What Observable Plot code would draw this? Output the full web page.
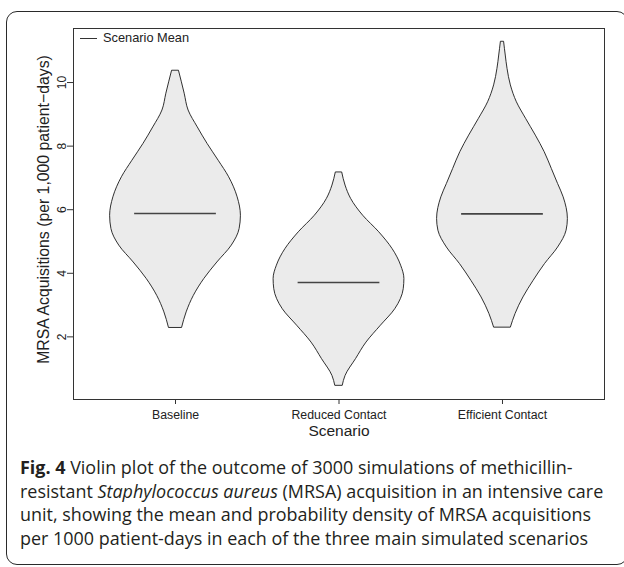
<!DOCTYPE html>
<html>
<head>
<meta charset="utf-8">
<script src="https://cdn.jsdelivr.net/npm/d3@7"></script>
<script src="https://cdn.jsdelivr.net/npm/@observablehq/plot@0.6"></script>
<style>
  html, body { margin: 0; padding: 0; background: #fff; }
  #page { position: relative; width: 624px; height: 567px; overflow: hidden; }
  #box { position: absolute; left: 6px; top: 11px; width: 622px; height: 554px; box-sizing: border-box;
         border: 1.5px solid #2a2a2a; border-radius: 11px; }
  #chart { position: absolute; left: 0; top: 0; }
  #legend { position: absolute; left: 80px; top: 31px; font: 12.8px "Liberation Sans", Arial, sans-serif; color: #222; }
  #legend .ln { position: absolute; left: 0; top: 6.5px; width: 17px; height: 1.5px; background: #333; }
  #legend .tx { position: absolute; left: 23px; top: 0; white-space: nowrap; line-height: 14px; }
  #caption { position: absolute; left: 20px; top: 456px; width: 600px; font-family: "Open Sans", sans-serif;
             font-size: 17.95px; line-height: 23.6px; color: #231f20; white-space: nowrap; }
</style>
</head>
<body>
<div id="page">
  <div id="box"></div>
  <div id="chart"></div>
  <div id="legend"><span class="ln"></span><span class="tx">Scenario Mean</span></div>
  <div id="caption"><b>Fig. 4</b> Violin plot of the outcome of 3000 simulations of methicillin-<br>resistant <i>Staphylococcus aureus</i> (MRSA) acquisition in an intensive care<br>unit, showing the mean and probability density of MRSA acquisitions<br>per 1000 patient-days in each of the three main simulated scenarios</div>
</div>
<script>
const categories = ["Baseline", "Reduced Contact", "Efficient Contact"];
const means = [5.88, 3.71, 5.87];
const yTicks = [2, 4, 6, 8, 10];

// density profiles: value (MRSA acquisitions) and relative half-width (1 = widest)
const baselineY = [10.36, 9.65, 9.12, 8.59, 8.07, 7.54, 7.02, 6.39, 5.81, 5.39, 4.87, 4.34, 3.82, 3.29, 2.77, 2.28];
const baselineW = [0.054, 0.14, 0.20, 0.34, 0.49, 0.66, 0.82, 0.95, 1.00, 0.98, 0.86, 0.64, 0.44, 0.28, 0.17, 0.10];

const reducedY = [7.16, 6.76, 6.34, 5.81, 5.29, 4.76, 4.24, 3.82, 3.50, 2.87, 2.35, 1.82, 1.30, 0.77, 0.46];
const reducedW = [0.05, 0.10, 0.185, 0.37, 0.615, 0.82, 0.95, 1.00, 0.99, 0.86, 0.64, 0.42, 0.26, 0.10, 0.057];

const efficientY = [11.27, 10.85, 10.43, 9.91, 9.38, 8.86, 8.33, 7.81, 7.28, 6.81, 6.39, 5.71, 5.34, 4.81, 4.29, 3.76, 3.24, 2.72, 2.29];
const efficientW = [0.025, 0.05, 0.077, 0.128, 0.22, 0.36, 0.51, 0.645, 0.755, 0.85, 0.935, 1.00, 0.98, 0.85, 0.65, 0.475, 0.32, 0.20, 0.128];

const profiles = [[baselineY, baselineW], [reducedY, reducedW], [efficientY, efficientW]];
const violin = profiles.flatMap(([ys, ws], i) =>
  ys.map((y, j) => ({cat: categories[i], pos: i + 1, y, w: ws[j]})));
const meanRows = means.map((m, i) => ({cat: categories[i], pos: i + 1, mean: m}));

const maxHalf = 0.4, meanHalf = 0.25;

const chart = Plot.plot({
  width: 624,
  height: 450,
  marginLeft: 73,
  marginRight: 20,
  marginTop: 28,
  marginBottom: 51,
  style: {fontFamily: '"Liberation Sans", Arial, Helvetica, sans-serif', fontSize: "12px", color: "#222", background: "transparent"},
  x: {domain: [0.376, 3.624]},
  y: {domain: [0.03, 11.70]},
  marks: [
    Plot.areaX(violin, {
      y: "y",
      x1: d => d.pos - d.w * maxHalf,
      x2: d => d.pos + d.w * maxHalf,
      z: "cat",
      curve: "monotone-y",
      fill: "#ebebeb",
      stroke: "#1a1a1a",
      strokeWidth: 0.9
    }),
    Plot.ruleY(meanRows, {
      y: "mean",
      x1: d => d.pos - meanHalf,
      x2: d => d.pos + meanHalf,
      stroke: "#444",
      strokeWidth: 1.6
    }),
    Plot.frame({stroke: "#333", strokeWidth: 1}),
    Plot.axisY({ticks: yTicks, tickSize: 6, tickFormat: () => "", label: null, stroke: "#333"}),
    Plot.text(yTicks, {y: d => d, text: d => String(d), frameAnchor: "left", textAnchor: "middle", dx: -11, rotate: -90, fontSize: 12, fill: "#222"}),
    Plot.axisX({ticks: [1, 2, 3], tickSize: 5, tickPadding: 6, tickFormat: i => categories[i - 1], label: null, fontSize: 12.3, stroke: "#333"}),
    Plot.text(["MRSA Acquisitions (per 1,000 patient\u2212days)"], {text: d => d, frameAnchor: "left", textAnchor: "middle", dx: -30, dy: -4.5, rotate: -90, fontSize: 15.8, fill: "#222"}),
    Plot.text(["Scenario"], {text: d => d, frameAnchor: "bottom", dy: 36, fontSize: 15.5, fill: "#222"})
  ]
});
document.getElementById("chart").appendChild(chart);
</script>
</body>
</html>
